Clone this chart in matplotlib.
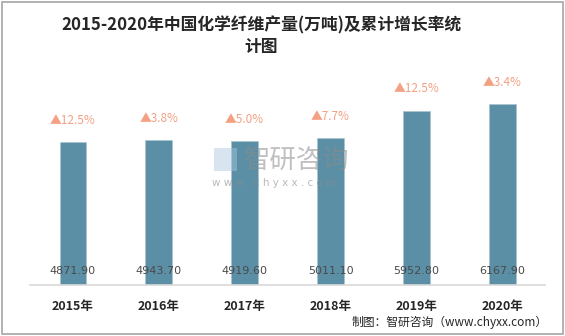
import matplotlib
matplotlib.use("Agg")
import matplotlib.pyplot as plt
from matplotlib.patches import Rectangle

plt.rcParams['font.family'] = ['Noto Sans CJK SC', 'DejaVu Sans']

years = ["2015年", "2016年", "2017年", "2018年", "2019年", "2020年"]
output = [4871.90, 4943.70, 4919.60, 5011.10, 5952.80, 6167.90]
growth = ["12.5%", "3.8%", "5.0%", "7.7%", "12.5%", "3.4%"]

fig = plt.figure(figsize=(5.65, 3.36), dpi=100)
fig.patches.append(Rectangle((0.004, 0.006), 0.992, 0.988, transform=fig.transFigure,
                             fill=False, edgecolor="#a6a6a6", linewidth=1.2))

ax = fig.add_axes([0.053, 0.152, 0.912, 0.61])
x = list(range(len(years)))
ax.bar(x, output, width=0.31, color="#5b8fa6", edgecolor="#a9c3d0", linewidth=0.6,
       linestyle=(0, (2, 1)), zorder=2)
ax.set_xlim(-0.5, 5.5)
ax.set_ylim(0, 7000)
for s in ["top", "right", "left"]:
    ax.spines[s].set_visible(False)
ax.spines["bottom"].set_color("#d9d9d9")
ax.spines["bottom"].set_linewidth(1.2)
ax.set_yticks([])
ax.set_xticks(x)
ax.set_xticklabels(years, fontsize=9, fontweight="bold", color="#262626")
ax.tick_params(axis="x", length=0, pad=11)

for xi, v, g in zip(x, output, growth):
    ax.text(xi, 480, f"{v:.2f}", ha="center", va="center", fontsize=8,
            color="#4a4a4a", zorder=3, family=["DejaVu Sans"])
    ax.annotate("▲" + g, (xi, v), xytext=(0, 11), textcoords="offset points",
                ha="center", va="bottom", fontsize=8.5, color="#f4a083",
                family=["Noto Sans CJK SC"])

# watermark
fig.patches.append(Rectangle((0.378, 0.49), 0.042, 0.07, transform=fig.transFigure,
                             facecolor="#a9c6e0", alpha=0.45, edgecolor="none"))
fig.text(0.432, 0.524, "智研咨询", fontsize=19, color="#8c8c8c", alpha=0.55,
         ha="left", va="center")
fig.text(0.375, 0.455, "w w w . c h y x x . c o m", fontsize=7.5, color="#8c8c8c",
         alpha=0.6, ha="left", va="center", family=["DejaVu Sans"])

fig.text(0.462, 0.926, "2015-2020年中国化学纤维产量(万吨)及累计增长率统", ha="center",
         va="center", fontsize=12.1, fontweight="bold", color="#262626")
fig.text(0.462, 0.860, "计图", ha="center", va="center", fontsize=12.1,
         fontweight="bold", color="#262626")
fig.text(0.97, 0.039, "制图：智研咨询（www.chyxx.com）", ha="right", va="center",
         fontsize=8.5, color="#262626")

fig.savefig("out.png", dpi=100)
